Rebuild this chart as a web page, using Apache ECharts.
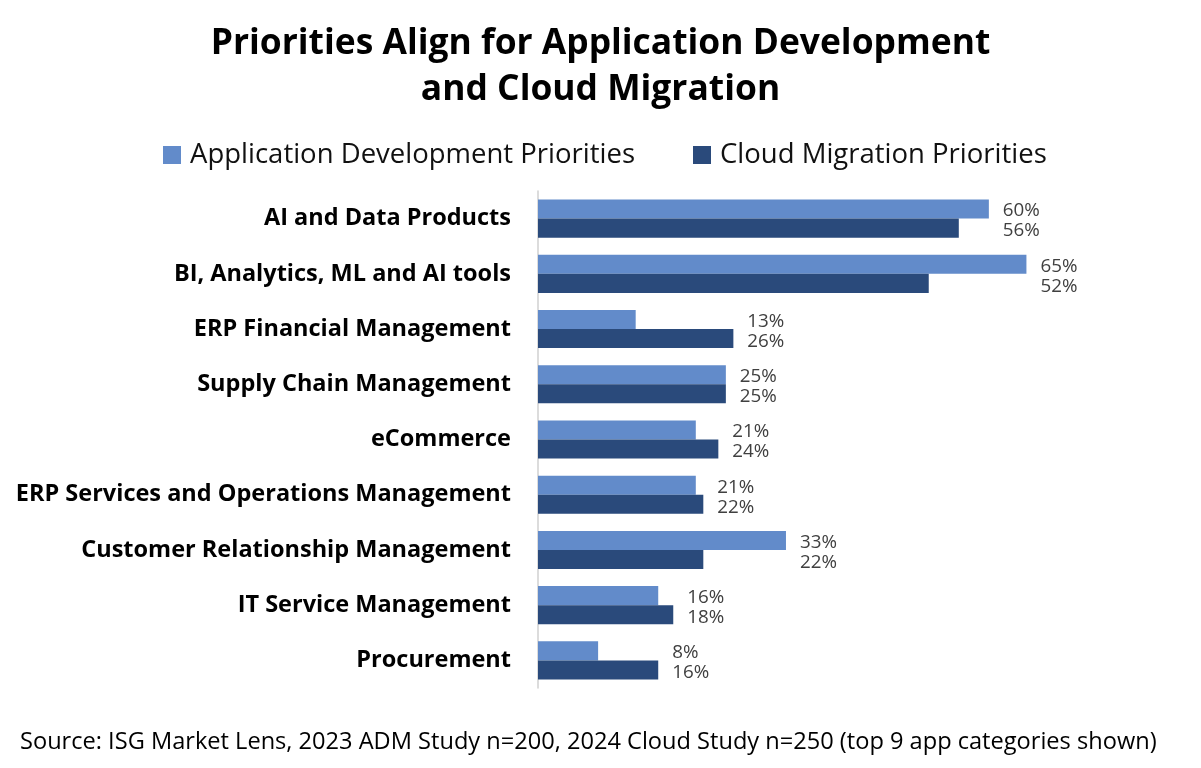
<!DOCTYPE html>
<html><head><meta charset="utf-8">
<script src="https://cdn.jsdelivr.net/npm/echarts@6/dist/echarts.min.js"></script>
<style>html,body{margin:0;padding:0;background:#fff}#c{width:1201px;height:768px}</style>
</head><body><div id="c"></div>
<script>
const categories = ["AI and Data Products","BI, Analytics, ML and AI tools","ERP Financial Management","Supply Chain Management","eCommerce","ERP Services and Operations Management","Customer Relationship Management","IT Service Management","Procurement"];
const appDev = [60,65,13,25,21,21,33,16,8];
const cloud = [56,52,26,25,24,22,22,18,16];
const seriesNames = ["Application Development Priorities","Cloud Migration Priorities"];

const pairMax = appDev.map((v,i)=>Math.max(v,cloud[i]));
const padA = appDev.map((v,i)=>pairMax[i]-v);
const padB = cloud.map((v,i)=>pairMax[i]-v);
const FONT = "Open Sans";
const labelStyle = (src,dy)=>({show:true,position:'right',distance:14,offset:[0,dy],color:'#404040',fontSize:18.8,fontFamily:FONT,
  formatter:p=>src[p.dataIndex]+'%'});

const chart = echarts.init(document.getElementById('c'));
chart.setOption({
  animation:false,
  textStyle:{fontFamily:FONT},
  title:{text:"Priorities Align for Application Development\nand Cloud Migration",left:'center',top:16,
    textStyle:{fontFamily:FONT,fontSize:35.4,fontWeight:'bold',color:'#000',lineHeight:46}},
  legend:{data:seriesNames,top:135,left:158,icon:'rect',itemWidth:18,itemHeight:18,itemGap:58,
    textStyle:{fontFamily:FONT,fontSize:27.5,color:'#111',lineHeight:30,padding:[0,0,0,4]}},
  grid:{left:538,right:137,top:191,bottom:80,containLabel:false},
  xAxis:{type:'value',min:0,max:70,show:false},
  yAxis:{type:'category',data:categories,inverse:true,
    axisLine:{show:true,lineStyle:{color:'#d0d0d0',width:1.5}},axisTick:{show:false},
    axisLabel:{fontFamily:FONT,fontSize:23.5,fontWeight:'bold',color:'#000',margin:27}},
  series:[
    {name:seriesNames[0],type:'bar',stack:'a',data:appDev,itemStyle:{color:'#628BCA'},barGap:'0%',barCategoryGap:'31%'},
    {name:'padA',type:'bar',stack:'a',data:padA,itemStyle:{color:'rgba(0,0,0,0)'},label:labelStyle(appDev,2),silent:true},
    {name:seriesNames[1],type:'bar',stack:'b',data:cloud,itemStyle:{color:'#2A4A7B'}},
    {name:'padB',type:'bar',stack:'b',data:padB,itemStyle:{color:'rgba(0,0,0,0)'},label:labelStyle(cloud,3),silent:true}
  ],
  graphic:[{type:'text',left:20,top:730,style:{text:"Source: ISG Market Lens, 2023 ADM Study n=200, 2024 Cloud Study n=250 (top 9 app categories shown)",
    font:'23.6px "Open Sans"',fill:'#000'}}]
});
</script></body></html>
